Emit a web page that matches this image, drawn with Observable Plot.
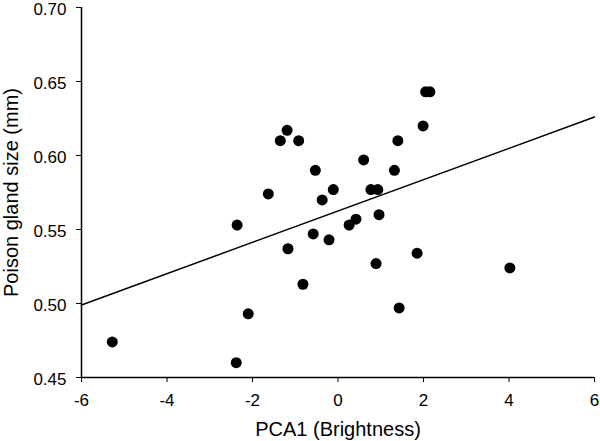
<!DOCTYPE html>
<html><head><meta charset="utf-8">
<script src="https://cdn.jsdelivr.net/npm/d3@7"></script>
<script src="https://cdn.jsdelivr.net/npm/@observablehq/plot@0.6"></script>
<style>body{margin:0;background:#fff}</style>
</head><body><div id="chart"></div>
<script>
const pcaX = [-5.28,-2.38,-2.10,1.43,2.05,2.15,1.99,1.40,-1.19,-1.35,-0.92,0.60,-0.53,1.32,-1.63,-0.11,0.77,0.93,-0.37,-2.36,0.96,0.42,0.26,-0.58,-0.21,-1.17,1.85,0.89,-0.82,4.02];
const glandY = [0.474,0.460,0.493,0.497,0.643,0.643,0.620,0.610,0.617,0.610,0.610,0.597,0.590,0.590,0.574,0.577,0.577,0.577,0.570,0.553,0.560,0.557,0.553,0.547,0.543,0.537,0.534,0.527,0.513,0.524];
const fitX = [-6, 6];
const fitY = [0.499, 0.626];
const xTicks = [-6,-4,-2,0,2,4,6];
const yTicks = [0.45,0.50,0.55,0.60,0.65,0.70];

const pts = pcaX.map((x,i)=>({x, y: glandY[i]}));
const fit = fitX.map((x,i)=>({x, y: fitY[i]}));

const chart = Plot.plot({
  width: 600, height: 441,
  marginLeft: 81, marginRight: 6, marginTop: 7, marginBottom: 64,
  style: {fontFamily: "'Liberation Sans', Arial, sans-serif", fontSize: "17px", color: "#000", background: "#fff", overflow: "visible"},
  x: {domain: [-6, 6]},
  y: {domain: [0.45, 0.70]},
  marks: [
    Plot.axisX({ticks: xTicks, tickSize: 5, tickPadding: 11, tickFormat: d => (d < 0 ? "-" : "") + Math.abs(d), label: null, fontSize: 17}),
    Plot.axisY({ticks: yTicks, tickSize: 5, tickFormat: () => "", label: null}),
    Plot.axisY({ticks: yTicks, tickSize: 0, tickPadding: 15, tickFormat: d3.format(".2f"), label: null, fontSize: 17, dy: 2}),
    Plot.text(["PCA1 (Brightness)"], {frameAnchor: "bottom", dy: 58, fontSize: 20, text: d => d}),
    Plot.text(["Poison gland size (mm)"], {frameAnchor: "left", textAnchor: "middle", dx: -70, rotate: -90, fontSize: 20, text: d => d}),
    Plot.ruleX([-6], {stroke: "#000", strokeWidth: 1.5}),
    Plot.ruleY([0.45], {stroke: "#000", strokeWidth: 1.5}),
    Plot.line(fit, {x: "x", y: "y", stroke: "#000", strokeWidth: 1.5}),
    Plot.dot(pts, {x: "x", y: "y", r: 5.5, fill: "#000", stroke: "none"})
  ]
});
document.getElementById("chart").append(chart);
</script></body></html>
